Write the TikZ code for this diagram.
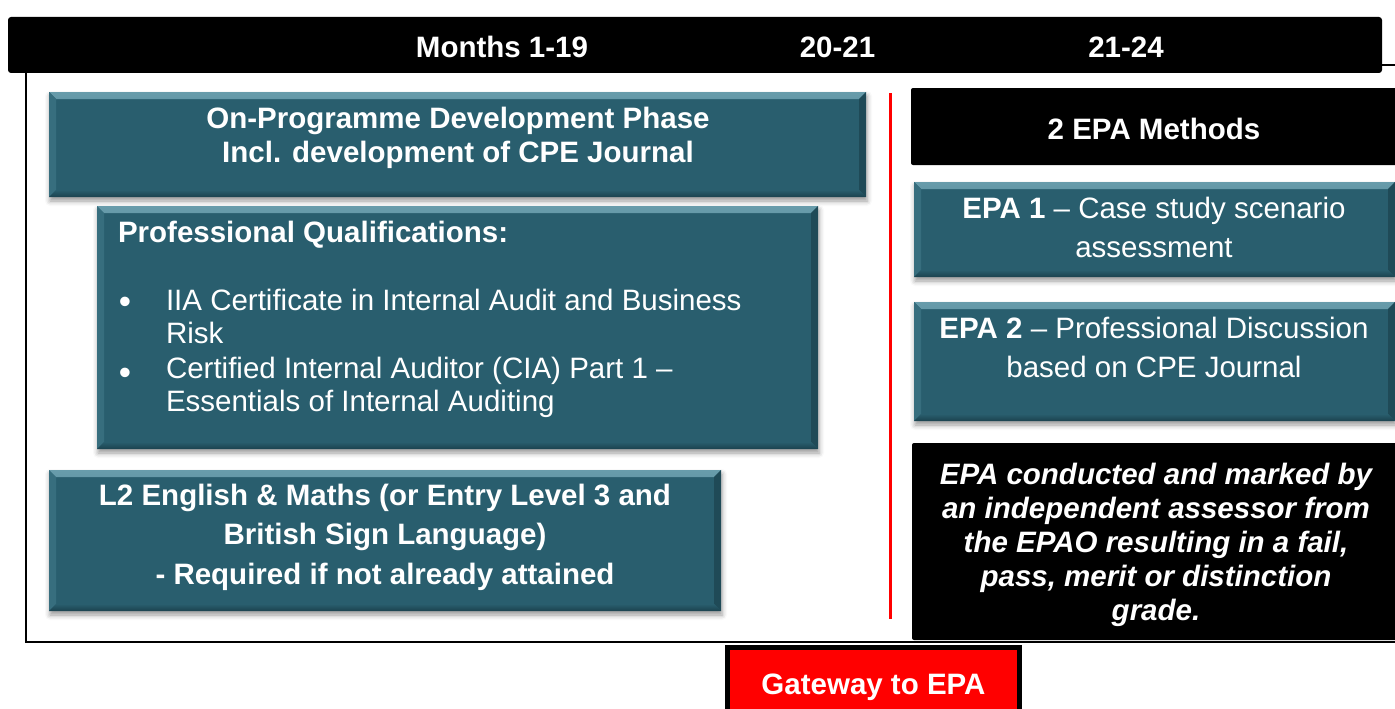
\documentclass[tikz,border=0pt]{standalone}
\usepackage{fontspec}
\setmainfont{Liberation Sans}
\usetikzlibrary{shadows.blur}
\definecolor{tealmain}{RGB}{41,94,110}
\definecolor{bevtop}{RGB}{104,156,171}
\definecolor{bevleft}{RGB}{55,110,126}
\definecolor{bevright}{RGB}{31,74,87}
\definecolor{bevbot}{RGB}{27,66,78}
\definecolor{gatered}{RGB}{255,0,0}
\newcommand\fsA{\fontsize{29.5}{34}\selectfont}
\newcommand\fsB{\fontsize{29.5}{39.5}\selectfont}
\newcommand\fsC{\fontsize{29.5}{33.5}\selectfont}
\newcommand\fsD{\fontsize{29.5}{39}\selectfont}
\newcommand\fsE{\fontsize{35}{35}\selectfont}
\newcommand\firstline{\rule{0pt}{22pt}}
\tikzset{
  bevel/.style={path picture={
    \shade[top color=bevtop, bottom color=tealmain]
      (path picture bounding box.north west) -- (path picture bounding box.north east)
      -- ([xshift=-7pt,yshift=-7pt]path picture bounding box.north east)
      -- ([xshift=7pt,yshift=-7pt]path picture bounding box.north west) -- cycle;
    \fill[bevleft]
      (path picture bounding box.north west) -- ([xshift=7pt,yshift=-7pt]path picture bounding box.north west)
      -- ([xshift=7pt,yshift=7pt]path picture bounding box.south west) -- (path picture bounding box.south west) -- cycle;
    \fill[bevright]
      (path picture bounding box.north east) -- ([xshift=-7pt,yshift=-7pt]path picture bounding box.north east)
      -- ([xshift=-7pt,yshift=7pt]path picture bounding box.south east) -- (path picture bounding box.south east) -- cycle;
    \shade[top color=tealmain, bottom color=bevbot]
      (path picture bounding box.south west) -- (path picture bounding box.south east)
      -- ([xshift=-7pt,yshift=7pt]path picture bounding box.south east)
      -- ([xshift=7pt,yshift=7pt]path picture bounding box.south west) -- cycle;
  }},
  tbox/.style={fill=tealmain, inner sep=0pt, outer sep=0pt, anchor=north west, bevel,
    blur shadow={shadow xshift=1pt, shadow yshift=-4pt, shadow blur radius=5pt, shadow opacity=40}},
  bbox/.style={fill=black, inner sep=0pt, outer sep=0pt, anchor=north west, rounded corners=2pt},
  wtxt/.style={text=white, inner sep=0pt, outer sep=0pt},
  hdrtxt/.style={wtxt, font=\fsA\bfseries, anchor=base},
}
\begin{document}
\begin{tikzpicture}[x=1pt,y=-1pt]
\useasboundingbox (0,0) rectangle (1395,709);
% outer frame
\draw[line width=2.5pt] (26,65) rectangle (1430,642);
% header bar
\node[bbox, rounded corners=3pt, minimum width=1374pt, minimum height=56pt] (hdr) at (8,17) {};
\node[hdrtxt] (m1) at (502,58) {Months 1-19};
\node[hdrtxt] (m2) at (837.5,58) {20-21};
\node[hdrtxt] (m3) at (1126,58) {21-24};
% left column boxes
\node[tbox, minimum width=817pt, minimum height=105pt] (b1) at (49,92) {};
\node[wtxt, font=\fsA\bfseries, align=center, anchor=north] (b1t) at (458,106)
  {\firstline On-Programme Development Phase\\Incl. development of CPE Journal};
\node[tbox, minimum width=721pt, minimum height=243pt] (b2) at (97,206) {};
\node[wtxt, font=\fsA\bfseries, anchor=base west] (b2h) at (118,242) {Professional Qualifications:};
\node[wtxt, font=\fsE, anchor=base] (bul1) at (125,313) {•};
\node[wtxt, font=\fsE, anchor=base] (bul2) at (125,384) {•};
\node[wtxt, font=\fsC, align=left, anchor=north west] (b2l) at (166,288)
  {\firstline IIA Certificate in Internal Audit and Business\\Risk\\[1pt]Certified Internal Auditor (CIA) Part 1 --\\Essentials of Internal Auditing};
\node[tbox, minimum width=672pt, minimum height=141pt] (b3) at (49,470) {};
\node[wtxt, font=\fsB\bfseries, align=center, anchor=north] (b3t) at (385,483)
  {\firstline L2 English \& Maths (or Entry Level 3 and\\British Sign Language)\\- Required if not already attained};
% red divider
\draw[gatered, line width=3pt] (890,93) -- (890,619);
% right column
\node[bbox, minimum width=500pt, minimum height=77pt] (epa) at (911,88) {};
\node[hdrtxt] (epat) at (1154,139) {2 EPA Methods};
\node[tbox, minimum width=481pt, minimum height=95pt] (e1) at (914,182) {};
\node[wtxt, font=\fsD, align=center, anchor=north] (e1t) at (1154,196)
  {\firstline\textbf{EPA 1} -- Case study scenario\\assessment};
\node[tbox, minimum width=481pt, minimum height=119pt] (e2) at (914,302) {};
\node[wtxt, font=\fsD, align=center, anchor=north] (e2t) at (1154,316)
  {\firstline\textbf{EPA 2} -- Professional Discussion\\based on CPE Journal};
\node[bbox, minimum width=500pt, minimum height=197pt] (e3) at (912,443) {};
\node[wtxt, font=\fsA\bfseries\itshape, align=center, anchor=north] (e3t) at (1156,462)
  {\firstline EPA conducted and marked by\\an independent assessor from\\the EPAO resulting in a fail,\\pass, merit or distinction\\grade.};
% gateway
\node[draw=black, line width=5pt, fill=gatered, inner sep=0pt, anchor=north west,
  minimum width=292pt, minimum height=90pt] (gw) at (725,645) {};
\node[hdrtxt] (gwt) at (873.5,694) {Gateway to EPA};
\end{tikzpicture}
\end{document}
